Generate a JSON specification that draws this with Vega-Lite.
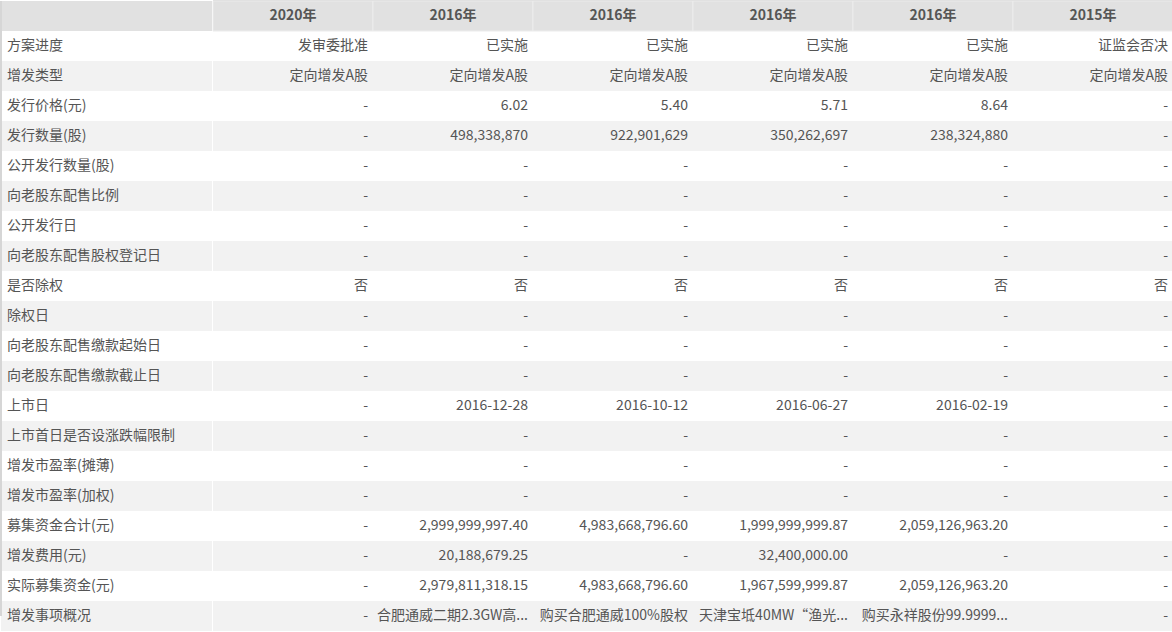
{
  "$schema": "https://vega.github.io/schema/vega-lite/v6.json",
  "padding": 0,
  "background": "#ffffff",
  "spacing": 0,
  "config": {"view": {"stroke": null}, "font": "Noto Sans CJK SC", "text": {"font": "Noto Sans CJK SC", "fontSize": 14, "color": "#555555"}},
  "datasets": {
    "t": [
      {"row": "hdr", "c1": "2020年", "c2": "2016年", "c3": "2016年", "c4": "2016年", "c5": "2016年", "c6": "2015年"},
      {"row": "方案进度", "c1": "发审委批准", "c2": "已实施", "c3": "已实施", "c4": "已实施", "c5": "已实施", "c6": "证监会否决"},
      {"row": "增发类型", "c1": "定向增发A股", "c2": "定向增发A股", "c3": "定向增发A股", "c4": "定向增发A股", "c5": "定向增发A股", "c6": "定向增发A股"},
      {"row": "发行价格(元)", "c1": "-", "c2": "6.02", "c3": "5.40", "c4": "5.71", "c5": "8.64", "c6": "-"},
      {"row": "发行数量(股)", "c1": "-", "c2": "498,338,870", "c3": "922,901,629", "c4": "350,262,697", "c5": "238,324,880", "c6": "-"},
      {"row": "公开发行数量(股)", "c1": "-", "c2": "-", "c3": "-", "c4": "-", "c5": "-", "c6": "-"},
      {"row": "向老股东配售比例", "c1": "-", "c2": "-", "c3": "-", "c4": "-", "c5": "-", "c6": "-"},
      {"row": "公开发行日", "c1": "-", "c2": "-", "c3": "-", "c4": "-", "c5": "-", "c6": "-"},
      {"row": "向老股东配售股权登记日", "c1": "-", "c2": "-", "c3": "-", "c4": "-", "c5": "-", "c6": "-"},
      {"row": "是否除权", "c1": "否", "c2": "否", "c3": "否", "c4": "否", "c5": "否", "c6": "否"},
      {"row": "除权日", "c1": "-", "c2": "-", "c3": "-", "c4": "-", "c5": "-", "c6": "-"},
      {"row": "向老股东配售缴款起始日", "c1": "-", "c2": "-", "c3": "-", "c4": "-", "c5": "-", "c6": "-"},
      {"row": "向老股东配售缴款截止日", "c1": "-", "c2": "-", "c3": "-", "c4": "-", "c5": "-", "c6": "-"},
      {"row": "上市日", "c1": "-", "c2": "2016-12-28", "c3": "2016-10-12", "c4": "2016-06-27", "c5": "2016-02-19", "c6": "-"},
      {"row": "上市首日是否设涨跌幅限制", "c1": "-", "c2": "-", "c3": "-", "c4": "-", "c5": "-", "c6": "-"},
      {"row": "增发市盈率(摊薄)", "c1": "-", "c2": "-", "c3": "-", "c4": "-", "c5": "-", "c6": "-"},
      {"row": "增发市盈率(加权)", "c1": "-", "c2": "-", "c3": "-", "c4": "-", "c5": "-", "c6": "-"},
      {"row": "募集资金合计(元)", "c1": "-", "c2": "2,999,999,997.40", "c3": "4,983,668,796.60", "c4": "1,999,999,999.87", "c5": "2,059,126,963.20", "c6": "-"},
      {"row": "增发费用(元)", "c1": "-", "c2": "20,188,679.25", "c3": "-", "c4": "32,400,000.00", "c5": "-", "c6": "-"},
      {"row": "实际募集资金(元)", "c1": "-", "c2": "2,979,811,318.15", "c3": "4,983,668,796.60", "c4": "1,967,599,999.87", "c5": "2,059,126,963.20", "c6": "-"},
      {"row": "增发事项概况", "c1": "-", "c2": "合肥通威二期2.3GW高...", "c3": "购买合肥通威100%股权", "c4": "天津宝坻40MW“渔光...", "c5": "购买永祥股份99.9999...", "c6": "-"}
    ],
    "cols": [{"col": "c1"}, {"col": "c2"}, {"col": "c3"}, {"col": "c4"}, {"col": "c5"}, {"col": "c6"}]
  },
  "hconcat": [
    {
      "width": 211,
      "height": 630,
      "data": {"name": "t"},
      "encoding": {
        "y": {"field": "row", "type": "nominal", "axis": null,
          "scale": {"paddingInner": 0, "paddingOuter": 0, "domain": ["hdr", "方案进度", "增发类型", "发行价格(元)", "发行数量(股)", "公开发行数量(股)", "向老股东配售比例", "公开发行日", "向老股东配售股权登记日", "是否除权", "除权日", "向老股东配售缴款起始日", "向老股东配售缴款截止日", "上市日", "上市首日是否设涨跌幅限制", "增发市盈率(摊薄)", "增发市盈率(加权)", "募集资金合计(元)", "增发费用(元)", "实际募集资金(元)", "增发事项概况"]}}
      },
      "layer": [
        {
          "mark": {"type": "rect"},
          "encoding": {
            "fill": {"condition": [
              {"test": "datum.row == 'hdr'", "value": "#e1e1e1"},
              {"test": "indexof(['增发类型','发行数量(股)','向老股东配售比例','向老股东配售股权登记日','除权日','向老股东配售缴款截止日','上市首日是否设涨跌幅限制','增发市盈率(加权)','增发费用(元)','增发事项概况'], datum.row) >= 0", "value": "#f2f2f2"}
            ], "value": "#ffffff"}
          }
        },
        {
          "mark": {"type": "rule", "color": "#d6d6d6", "strokeWidth": 2},
          "encoding": {"x": {"datum": "c0", "type": "nominal", "bandPosition": 0, "axis": null, "scale": {"paddingInner": 0, "paddingOuter": 0}}}
        },
        {
          "transform": [{"filter": "datum.row != 'hdr'"}],
          "mark": {"type": "text", "align": "left", "baseline": "middle", "dx": 6},
          "encoding": {
            "x": {"datum": "c0", "type": "nominal", "bandPosition": 0, "axis": null},
            "text": {"field": "row"}
          }
        }
      ]
    },
    {
      "width": 960,
      "height": 630,
      "encoding": {
        "y": {"field": "row", "type": "nominal", "axis": null,
          "scale": {"paddingInner": 0, "paddingOuter": 0, "domain": ["hdr", "方案进度", "增发类型", "发行价格(元)", "发行数量(股)", "公开发行数量(股)", "向老股东配售比例", "公开发行日", "向老股东配售股权登记日", "是否除权", "除权日", "向老股东配售缴款起始日", "向老股东配售缴款截止日", "上市日", "上市首日是否设涨跌幅限制", "增发市盈率(摊薄)", "增发市盈率(加权)", "募集资金合计(元)", "增发费用(元)", "实际募集资金(元)", "增发事项概况"]}}
      },
      "layer": [
        {
          "data": {"name": "t"},
          "transform": [{"filter": "datum.row != 'hdr'"}],
          "mark": {"type": "rect"},
          "encoding": {
            "fill": {"condition": [
              {"test": "indexof(['增发类型','发行数量(股)','向老股东配售比例','向老股东配售股权登记日','除权日','向老股东配售缴款截止日','上市首日是否设涨跌幅限制','增发市盈率(加权)','增发费用(元)','增发事项概况'], datum.row) >= 0", "value": "#f2f2f2"}
            ], "value": "#ffffff"}
          }
        },
        {
          "data": {"name": "cols"},
          "mark": {"type": "rule", "color": "#d9d9d9", "strokeWidth": 2},
          "encoding": {"x": {"field": "col", "type": "nominal", "bandPosition": 0, "axis": null, "scale": {"domain": ["c1", "c2", "c3", "c4", "c5", "c6"], "paddingInner": 0, "paddingOuter": 0}}}
        },
        {
          "data": {"name": "cols"},
          "transform": [{"filter": "datum.col == 'c6'"}],
          "mark": {"type": "rule", "color": "#d6d6d6", "strokeWidth": 2},
          "encoding": {"x": {"field": "col", "type": "nominal", "bandPosition": 1, "axis": null}}
        },
        {
          "data": {"name": "t"},
          "transform": [{"filter": "datum.row == 'hdr'"}, {"fold": ["c1", "c2", "c3", "c4", "c5", "c6"], "as": ["col", "v"]}],
          "mark": {"type": "rect", "fill": "#e1e1e1", "stroke": "#ececec", "strokeWidth": 1},
          "encoding": {"x": {"field": "col", "type": "nominal", "axis": null}}
        },
        {
          "data": {"name": "t"},
          "transform": [{"filter": "datum.row == 'hdr'"}, {"fold": ["c1", "c2", "c3", "c4", "c5", "c6"], "as": ["col", "v"]}],
          "mark": {"type": "text", "align": "center", "baseline": "middle", "fontWeight": "bold"},
          "encoding": {"x": {"field": "col", "type": "nominal", "bandPosition": 0.5, "axis": null}, "text": {"field": "v"}}
        },
        {
          "data": {"name": "t"},
          "transform": [{"filter": "datum.row != 'hdr'"}, {"fold": ["c1", "c2", "c3", "c4", "c5", "c6"], "as": ["col", "v"]}],
          "mark": {"type": "text", "align": "right", "baseline": "middle", "dx": -5},
          "encoding": {"x": {"field": "col", "type": "nominal", "bandPosition": 1, "axis": null}, "text": {"field": "v"}}
        }
      ]
    }
  ]
}
